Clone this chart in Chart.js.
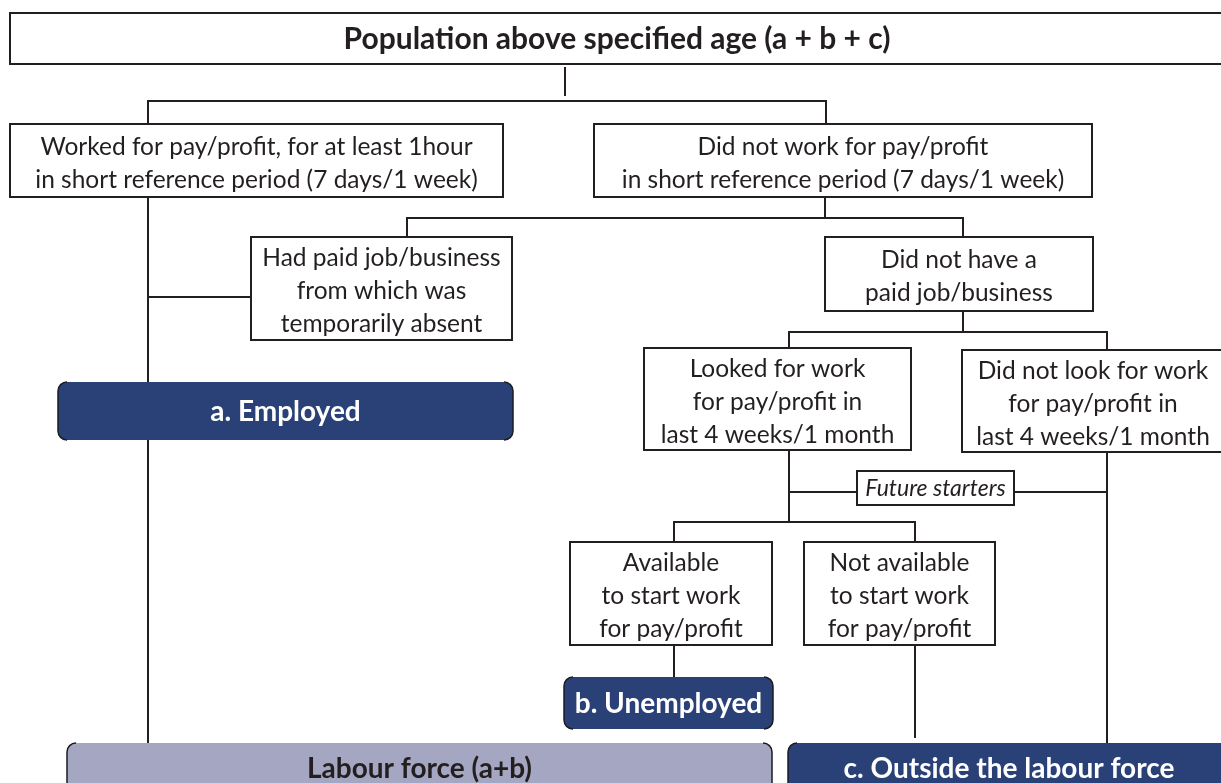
<!DOCTYPE html>
<html>
<head>
<meta charset="utf-8">
<script src="https://cdn.jsdelivr.net/npm/chart.js@4/dist/chart.umd.min.js"></script>
<style>
  html, body { margin: 0; padding: 0; background: #fff; }
  #flow { display: block; }
</style>
</head>
<body>
<canvas id="flow" width="1221" height="783"></canvas>
<script>
// Box texts, one entry per node of the flow
const nodeLabels = [
  ["Population above specified age (a + b + c)"],
  ["Worked for pay/profit, for at least 1hour", "in short reference period (7 days/1 week)"],
  ["Did not work for pay/profit", "in short reference period (7 days/1 week)"],
  ["Had paid job/business", "from which was", "temporarily absent"],
  ["Did not have a", "paid job/business"],
  ["Looked for work", "for pay/profit in", "last 4 weeks/1 month"],
  ["Did not look for work", "for pay/profit in", "last 4 weeks/1 month"],
  ["Future starters"],
  ["Available", "to start work", "for pay/profit"],
  ["Not available", "to start work", "for pay/profit"],
  ["a. Employed"],
  ["b. Unemployed"],
  ["Labour force (a+b)"],
  ["c. Outside the labour force"]
];
const nodeKinds = ["title", "plain", "plain", "plain", "plain", "plain", "plain", "note",
  "plain", "plain", "result", "result", "total", "result"];

// Box corners in chart units [x0, y0, x1, y1] (layout only)
const nodeBoxes = [
  [10, 13, 1224, 64],
  [10, 124, 503, 197],
  [594, 124, 1092, 197],
  [251, 237, 512, 340],
  [825, 237, 1093, 311],
  [644, 348, 911, 450],
  [962, 350, 1224, 452],
  [857, 471, 1014, 505],
  [570, 542, 772, 645],
  [804, 542, 995, 645],
  [58, 382, 513, 440],
  [564, 677, 773, 729],
  [67, 743, 772, 810],
  [788, 743, 1230, 810]
];

// Connector polylines in chart units
const links = [
  [[565, 67], [565, 96]],
  [[148, 124], [148, 101], [826, 101], [826, 124]],
  [[148, 197], [148, 743]],
  [[148, 297], [251, 297]],
  [[825, 197], [825, 218]],
  [[407, 237], [407, 218], [963, 218], [963, 237]],
  [[963, 311], [963, 332]],
  [[789, 348], [789, 332], [1107, 332], [1107, 350]],
  [[789, 450], [789, 522]],
  [[789, 492], [1107, 492]],
  [[1107, 452], [1107, 743]],
  [[674, 542], [674, 522], [915, 522], [915, 542]],
  [[674, 645], [674, 677]],
  [[915, 645], [915, 738]]
];

const INK = "#231f20";
const NAVY = "#2a4178";
const LILAC = "#a5a6c2";

const kindStyle = {
  title:  { fill: "#fff", text: INK, font: "bold 30px Lato", stroke: true },
  plain:  { fill: "#fff", text: INK, font: "24.5px Lato", stroke: true },
  note:   { fill: "#fff", text: INK, font: "italic 23px Lato", stroke: true },
  result: { fill: NAVY, text: "#fff", font: "bold 28px Lato", round: true },
  total:  { fill: LILAC, text: INK, font: "bold 28px Lato", round: true }
};

function roundSides(ctx, x0, y0, x1, y1, r) {
  ctx.beginPath();
  ctx.moveTo(x0 + r, y0);
  ctx.arcTo(x0, y0, x0, y0 + r, r);
  ctx.lineTo(x0, y1 - r);
  ctx.arcTo(x0, y1, x0 + r, y1, r);
  ctx.moveTo(x1 - r, y0);
  ctx.arcTo(x1, y0, x1, y0 + r, r);
  ctx.lineTo(x1, y1 - r);
  ctx.arcTo(x1, y1, x1 - r, y1, r);
}

const boxPlugin = {
  id: "boxes",
  afterDatasetsDraw(chart) {
    const ctx = chart.ctx;
    const sx = chart.scales.x, sy = chart.scales.y;
    ctx.save();
    nodeLabels.forEach((lines, i) => {
      const st = kindStyle[nodeKinds[i]];
      const b = nodeBoxes[i];
      const x0 = sx.getPixelForValue(b[0]), x1 = sx.getPixelForValue(b[2]);
      const y0 = sy.getPixelForValue(b[1]), y1 = sy.getPixelForValue(b[3]);
      ctx.fillStyle = st.fill;
      if (st.round) {
        ctx.beginPath();
        ctx.roundRect(x0, y0, x1 - x0, y1 - y0, 9);
        ctx.fill();
        roundSides(ctx, x0, y0, x1, y1, 9);
        ctx.strokeStyle = "#1b1b22";
        ctx.lineWidth = 1.5;
        ctx.stroke();
      } else {
        ctx.fillRect(x0, y0, x1 - x0, y1 - y0);
        ctx.strokeStyle = INK;
        ctx.lineWidth = 2;
        ctx.strokeRect(x0, y0, x1 - x0, y1 - y0);
      }
      ctx.fillStyle = st.text;
      ctx.font = st.font;
      ctx.textAlign = "center";
      ctx.textBaseline = "middle";
      const lh = 33;
      let cx = (x0 + x1) / 2;
      let cy = (y0 + y1) / 2 + (nodeKinds[i] === "plain" ? 3 : 1);
      if (nodeKinds[i] === "total" || i === 13) {
        cy = y0 + 26;
        if (i === 13) cx = sx.getPixelForValue(1009);
      }
      lines.forEach((t, k) => {
        ctx.fillText(t, cx, cy + (k - (lines.length - 1) / 2) * lh);
      });
    });
    ctx.restore();
  }
};

new Chart(document.getElementById("flow"), {
  type: "scatter",
  data: {
    datasets: links.map((pts) => ({
      data: pts.map((p) => ({ x: p[0], y: p[1] })),
      showLine: true,
      borderColor: INK,
      borderWidth: 2,
      pointRadius: 0,
      tension: 0,
      fill: false
    }))
  },
  options: {
    responsive: false,
    animation: false,
    devicePixelRatio: 1,
    layout: { padding: 0 },
    plugins: { legend: { display: false }, tooltip: { enabled: false } },
    scales: {
      x: { type: "linear", min: 0, max: 1221, display: false },
      y: { type: "linear", min: 0, max: 783, reverse: true, display: false }
    }
  },
  plugins: [boxPlugin]
});
</script>
</body>
</html>
